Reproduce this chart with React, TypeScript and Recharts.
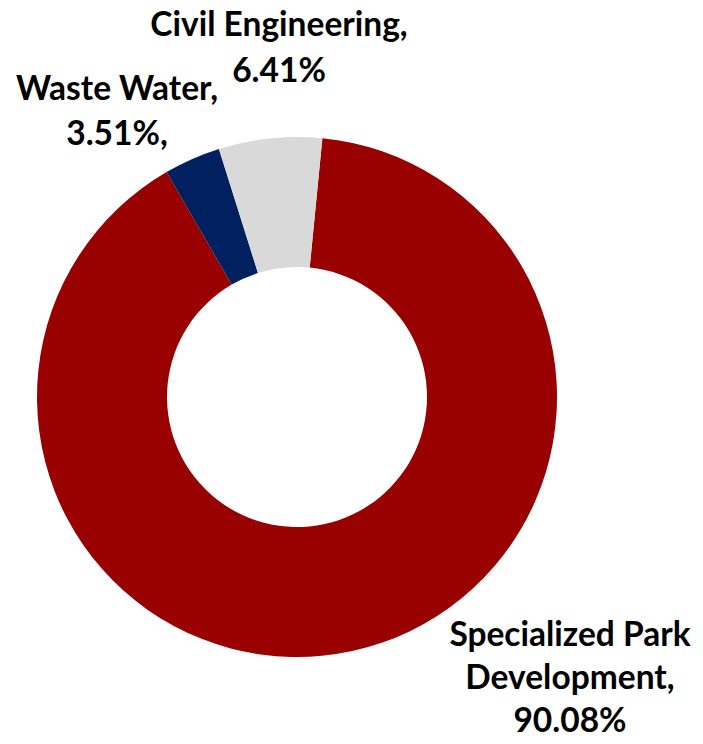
import { Cell, Pie, PieChart } from 'recharts';

const categories = ['Specialized Park Development', 'Waste Water', 'Civil Engineering'];
const shares = [90.08, 3.51, 6.41];
const colors = ['#990000', '#002060', '#D9D9D9'];

// label text lines per slice (as laid out in the original)
const labelLines = [
  ['Specialized Park', 'Development,', '90.08%'],
  ['Waste Water,', '3.51%,'],
  ['Civil Engineering,', '6.41%'],
];

// label anchor (center x, first baseline) relative to the pie centre, plus line height
const labelPlacement = [
  { dx: 273, dy: 249, lh: 43 },
  { dx: -180, dy: -297, lh: 45 },
  { dx: -18, dy: -361, lh: 46 },
];

const chartData = categories.map((name, i) => ({ name, value: shares[i] }));

const FONT = 'Lato, "Open Sans", sans-serif';

function renderLabel(props: any) {
  const { cx, cy, index } = props;
  const p = labelPlacement[index];
  const lines = labelLines[index];
  return (
    <text
      x={cx + p.dx}
      y={cy + p.dy}
      textAnchor='middle'
      fontFamily={FONT}
      fontWeight={700}
      fontSize={33.5}
      fill='#000'
    >
      {lines.map((line, j) => (
        <tspan key={j} x={cx + p.dx} dy={j === 0 ? 0 : p.lh}>
          {line}
        </tspan>
      ))}
    </text>
  );
}

export default function App() {
  return (
    <div style={{ position: 'absolute', left: 0, top: 0, width: 703, height: 744, background: '#fff' }}>
      <PieChart width={703} height={744} margin={{ top: 0, right: 0, bottom: 0, left: 0 }}>
        <Pie
          data={chartData}
          dataKey='value'
          nameKey='name'
          cx={297}
          cy={397}
          innerRadius={130}
          outerRadius={260}
          startAngle={84.4}
          endAngle={-275.6}
          stroke='none'
          labelLine={false}
          label={renderLabel}
          isAnimationActive={false}
        >
          {chartData.map((d, i) => (
            <Cell key={d.name} fill={colors[i]} />
          ))}
        </Pie>
      </PieChart>
    </div>
  );
}
